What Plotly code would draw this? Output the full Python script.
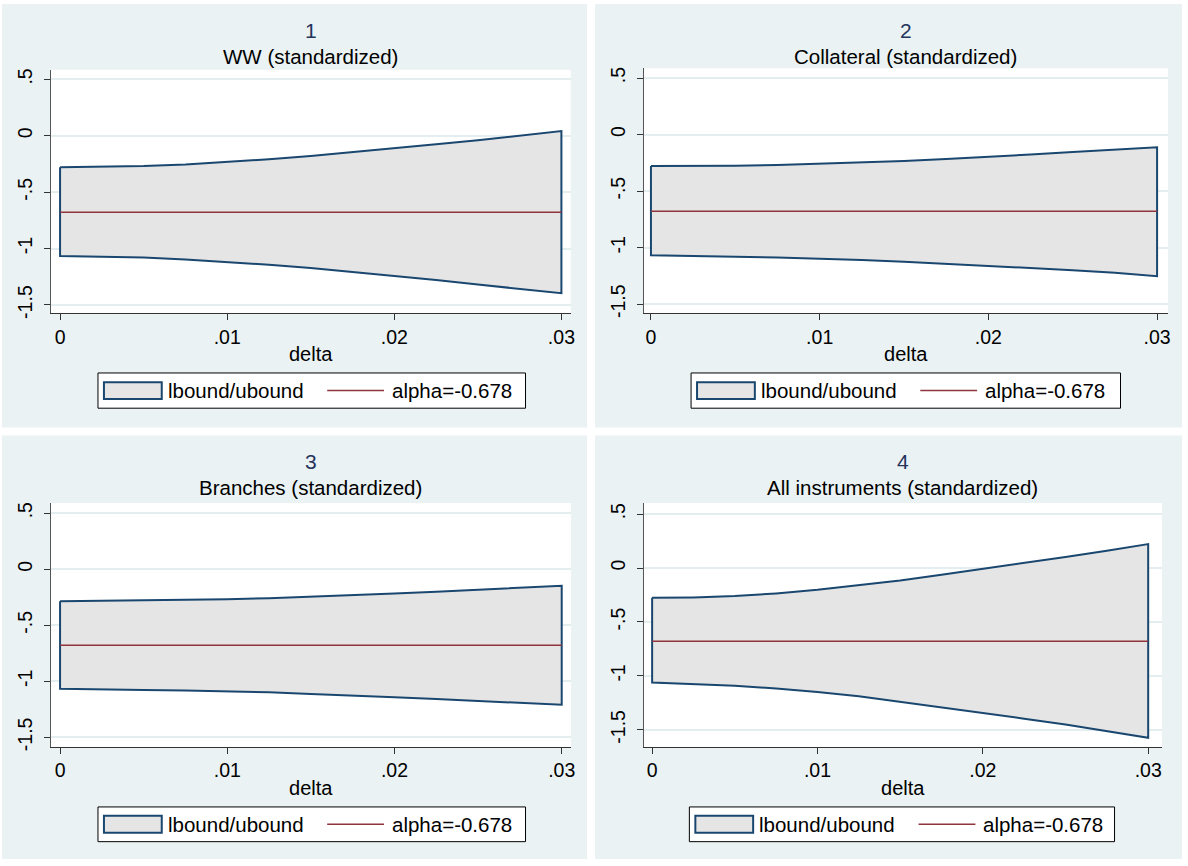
import plotly.graph_objects as go

W, H = 1188, 866

# ---------------- data ----------------
delta = [0, 0.0025, 0.005, 0.0075, 0.01, 0.0125, 0.015, 0.0175, 0.02, 0.0225, 0.025, 0.0275, 0.03]
alpha = -0.678

ww_upper = [-0.279, -0.276, -0.268, -0.254, -0.233, -0.208, -0.180, -0.147, -0.112, -0.076, -0.040, -0.001, 0.041]
ww_lower = [-1.066, -1.070, -1.080, -1.096, -1.118, -1.143, -1.173, -1.206, -1.243, -1.279, -1.319, -1.360, -1.395]

col_upper = [-0.279, -0.278, -0.275, -0.269, -0.258, -0.247, -0.233, -0.216, -0.199, -0.177, -0.155, -0.133, -0.112]
col_lower = [-1.068, -1.073, -1.081, -1.088, -1.097, -1.109, -1.124, -1.141, -1.161, -1.179, -1.199, -1.221, -1.252]

br_upper = [-0.287, -0.284, -0.278, -0.274, -0.269, -0.259, -0.247, -0.234, -0.218, -0.202, -0.184, -0.166, -0.148]
br_lower = [-1.068, -1.072, -1.078, -1.083, -1.088, -1.099, -1.113, -1.126, -1.143, -1.159, -1.173, -1.191, -1.210]

all_upper = [-0.276, -0.272, -0.260, -0.235, -0.202, -0.162, -0.116, -0.063, -0.009, 0.048, 0.103, 0.160, 0.222]
all_lower = [-1.061, -1.074, -1.092, -1.117, -1.150, -1.190, -1.240, -1.290, -1.344, -1.397, -1.452, -1.511, -1.574]

titles = ["1", "2", "3", "4"]
subtitles = ["WW (standardized)", "Collateral (standardized)",
             "Branches (standardized)", "All instruments (standardized)"]
uppers = [ww_upper, col_upper, br_upper, all_upper]
lowers = [ww_lower, col_lower, br_lower, all_lower]

ytick_vals = [-1.5, -1, -0.5, 0, 0.5]
ytick_text = ["-1.5", "-1", "-.5", "0", ".5"]
xtick_vals = [0, 0.01, 0.02, 0.03]
xtick_text = ["0", ".01", ".02", ".03"]
x_title = "delta"
legend_labels = ["lbound/ubound", "alpha=-0.678"]

# ---------------- style / layout ----------------
FONT = "Liberation Sans, Arial, sans-serif"
BG = "#EAF2F3"
FILL = "#E5E5E5"
NAVY = "#1A476F"
MAROON = "#90353B"
GRID = "#E4EDEF"
TITLE_COL = "#24345C"

panels = [
    dict(bg=(2, 2, 589, 429), plot=(50.7, 68.3, 572.7, 314.0),
         xr=[-0.00057, 0.03056], yr=[-1.575, 0.585], leg=(98.3, 374.0, 527.3, 409.5)),
    dict(bg=(597, 2, 1186, 429), plot=(645.7, 66.7, 1172.0, 314.0),
         xr=[-0.00044, 0.03065], yr=[-1.582, 0.587], leg=(693.4, 374.0, 1124.3, 409.5)),
    dict(bg=(2, 437, 589, 864), plot=(50.7, 505.0, 573.0, 751.0),
         xr=[-0.00057, 0.03056], yr=[-1.586, 0.591], leg=(98.3, 811.5, 527.3, 846.5)),
    dict(bg=(597, 437, 1186, 864), plot=(645.7, 505.0, 1166.0, 751.0),
         xr=[-0.00052, 0.03084], yr=[-1.659, 0.604], leg=(691.7, 811.5, 1118.3, 846.5)),
]


def px(x):
    return x / W


def py(y):
    return 1 - y / H


fig = go.Figure()
shapes = []
annotations = []
layout_axes = {}

for i, p in enumerate(panels):
    n = "" if i == 0 else str(i + 1)
    xa, ya = "x" + n, "y" + n
    up, lo = uppers[i], lowers[i]

    # panel background and plot region
    x0, y0, x1, y1 = p["bg"]
    shapes.append(dict(type="rect", xref="paper", yref="paper", layer="below",
                       x0=px(x0), x1=px(x1), y0=py(y1), y1=py(y0),
                       fillcolor=BG, line=dict(width=0)))
    l, t, r, b = p["plot"]
    shapes.append(dict(type="rect", xref="paper", yref="paper", layer="below",
                       x0=px(l), x1=px(r), y0=py(b), y1=py(t),
                       fillcolor="white", line=dict(width=0)))

    # range area (closed polygon)
    poly_x = delta + delta[::-1] + [delta[0]]
    poly_y = up + lo[::-1] + [up[0]]
    fig.add_trace(go.Scatter(x=poly_x, y=poly_y, mode="lines", fill="toself",
                             fillcolor=FILL, line=dict(color=NAVY, width=2),
                             name=legend_labels[0], showlegend=False,
                             xaxis=xa, yaxis=ya, hoverinfo="skip"))
    fig.add_trace(go.Scatter(x=delta, y=[alpha] * len(delta), mode="lines",
                             line=dict(color=MAROON, width=1.5),
                             name=legend_labels[1], showlegend=False,
                             xaxis=xa, yaxis=ya))

    layout_axes["xaxis" + n] = dict(
        domain=[px(l), px(r)], anchor=ya, range=p["xr"],
        tickmode="array", tickvals=xtick_vals, ticktext=xtick_text,
        ticks="outside", ticklen=6, tickwidth=1, tickcolor="#333333",
        showline=True, linecolor="#333333", linewidth=1,
        showgrid=False, zeroline=False,
        tickfont=dict(family=FONT, size=19.5, color="black"),
        ticklabelstandoff=0,
        title=dict(text=x_title, font=dict(family=FONT, size=20, color="black"), standoff=0),
    )
    layout_axes["yaxis" + n] = dict(
        domain=[py(b), py(t)], anchor=xa, range=p["yr"],
        tickmode="array", tickvals=ytick_vals, ticktext=ytick_text,
        ticks="outside", ticklen=6, tickwidth=1, tickcolor="#333333",
        showline=True, linecolor="#555555", linewidth=1,
        showgrid=True, gridcolor=GRID, gridwidth=1.5, zeroline=False,
        tickangle=-90, ticklabelstandoff=4,
        tickfont=dict(family=FONT, size=19.5, color="black"),
    )

    cx = (l + r) / 2
    annotations.append(dict(text=titles[i], xref="paper", yref="paper", showarrow=False,
                            x=px(cx), y=py(p["bg"][1] + 26.5), xanchor="center", yanchor="middle",
                            font=dict(family=FONT, size=21, color=TITLE_COL)))
    annotations.append(dict(text=subtitles[i], xref="paper", yref="paper", showarrow=False,
                            x=px(cx), y=py(p["bg"][1] + 52.5), xanchor="center", yanchor="middle",
                            font=dict(family=FONT, size=20.5, color="black")))

    # legend box
    L, T, R, B = p["leg"]
    cy = (T + B) / 2
    shapes.append(dict(type="rect", xref="paper", yref="paper",
                       x0=px(L), x1=px(R), y0=py(B), y1=py(T),
                       fillcolor="white", line=dict(color="black", width=1)))
    shapes.append(dict(type="rect", xref="paper", yref="paper",
                       x0=px(L + 6), x1=px(L + 64), y0=py(cy + 8.5), y1=py(cy - 8.5),
                       fillcolor=FILL, line=dict(color=NAVY, width=2)))
    shapes.append(dict(type="line", xref="paper", yref="paper",
                       x0=px(L + 230), x1=px(L + 287), y0=py(cy), y1=py(cy),
                       line=dict(color=MAROON, width=1.5)))
    annotations.append(dict(text=legend_labels[0], xref="paper", yref="paper", showarrow=False,
                            x=px(L + 68), y=py(cy), xanchor="left", yanchor="middle",
                            font=dict(family=FONT, size=20.5, color="black")))
    annotations.append(dict(text=legend_labels[1], xref="paper", yref="paper", showarrow=False,
                            x=px(L + 293), y=py(cy), xanchor="left", yanchor="middle",
                            font=dict(family=FONT, size=20.5, color="black")))

fig.update_layout(
    width=W, height=H, autosize=False,
    margin=dict(l=0, r=0, t=0, b=0),
    paper_bgcolor="white", plot_bgcolor="rgba(0,0,0,0)",
    showlegend=False, shapes=shapes, annotations=annotations,
    font=dict(family=FONT, color="black"),
    **layout_axes,
)

fig.write_html("out.html", config={"displayModeBar": False},
               post_script="document.body.style.margin='0';document.body.style.overflow='hidden';")
